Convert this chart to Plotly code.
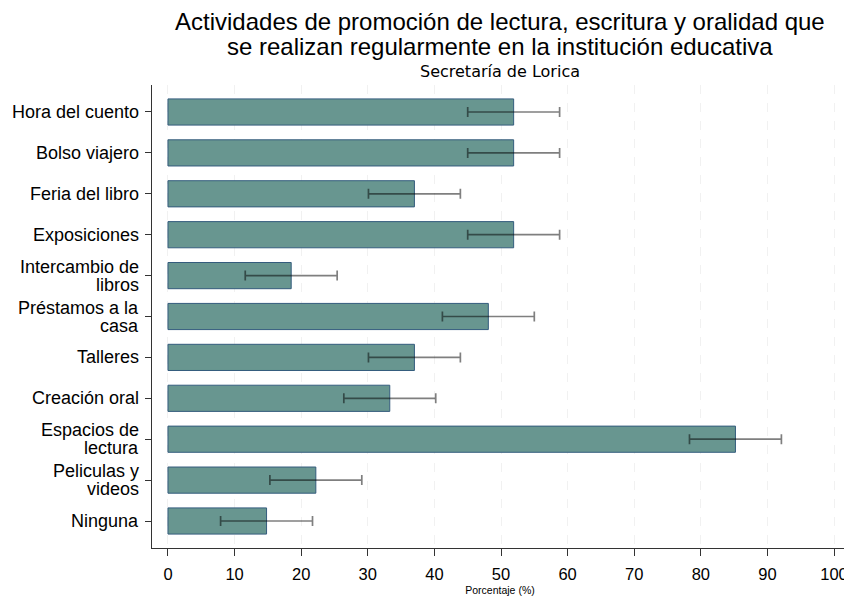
import plotly.graph_objects as go

categories = ["Hora del cuento", "Bolso viajero", "Feria del libro", "Exposiciones",
              "Intercambio de<br>libros", "Préstamos a la<br>casa", "Talleres",
              "Creación oral", "Espacios de<br>lectura", "Peliculas y<br>videos", "Ninguna"]
values = [51.9, 51.9, 37.0, 51.9, 18.5, 48.1, 37.0, 33.3, 85.2, 22.2, 14.8]
errors = [6.9, 6.9, 6.9, 6.9, 6.9, 6.9, 6.9, 6.9, 6.9, 6.9, 6.9]
x_ticks = [0, 10, 20, 30, 40, 50, 60, 70, 80, 90, 100]
title_lines = ["Actividades de promoción de lectura, escritura y oralidad que",
               "se realizan regularmente en la institución educativa"]
subtitle = "Secretaría de Lorica"
x_title = "Porcentaje (%)"

font = "Liberation Sans, Arial, sans-serif"
OFF = 8  # default page body margin
W, H = 852 - OFF, 600 - OFF
ML, MR, MT, MB = 152 - OFF, 4, 85 - OFF, 52
plot_h = H - MT - MB


def py(p):
    """page pixel y (from top) -> paper y"""
    return (H - MB - (p - OFF)) / plot_h


fig = go.Figure()
fig.add_trace(go.Bar(
    y=categories, x=values, orientation="h",
    width=0.64,
    marker=dict(color="rgb(104,150,144)", line=dict(color="rgb(52,92,125)", width=1)),
    error_x=dict(type="data", array=errors, visible=True,
                 color="rgba(0,0,0,0.5)", thickness=1.7, width=5),
))

annotations = []
for i, line in enumerate(title_lines):
    annotations.append(dict(text=line, x=0.5, xref="paper", y=py([22, 46][i]), yref="paper",
                            yanchor="middle", showarrow=False, borderpad=0,
                            font=dict(size=24, color="black")))
annotations.append(dict(text=subtitle, x=0.5, xref="paper", y=py(72), yref="paper",
                        yanchor="middle", showarrow=False,
                        font=dict(size=16, color="black", family="DejaVu Sans")))
# y tick labels with tight line spacing
for cat in categories:
    parts = cat.split("<br>")
    n = len(parts)
    for j, part in enumerate(parts):
        shift = (n - 1) / 2 * 18 - j * 18
        annotations.append(dict(text=part, x=0, xref="paper", xanchor="right", xshift=-11,
                                y=cat, yref="y", yanchor="middle", yshift=shift,
                                showarrow=False, font=dict(size=18, color="black")))

fig.update_layout(
    width=W, height=H,
    margin=dict(l=ML, r=MR, t=MT, b=MB),
    plot_bgcolor="white", paper_bgcolor="white",
    showlegend=False,
    font=dict(family=font, color="black"),
    xaxis=dict(range=[-2.4, 102.1], tickvals=x_ticks, ticks="outside", ticklen=7,
               tickcolor="#333", showline=True, linecolor="#333", linewidth=1.2,
               showgrid=True, gridcolor="#f1f1f1", griddash="dash", gridwidth=1,
               zeroline=False, tickfont=dict(size=16.5), automargin=False,
               ticklabelstandoff=4,
               title=dict(text=x_title, font=dict(size=10.5), standoff=4)),
    yaxis=dict(range=[10.66, -0.66], ticks="outside", ticklen=6,
               tickcolor="#333", showline=True, linecolor="#333", linewidth=1.2,
               showgrid=False, showticklabels=False, automargin=False),
    annotations=annotations,
)

fig.write_html("out.html")
